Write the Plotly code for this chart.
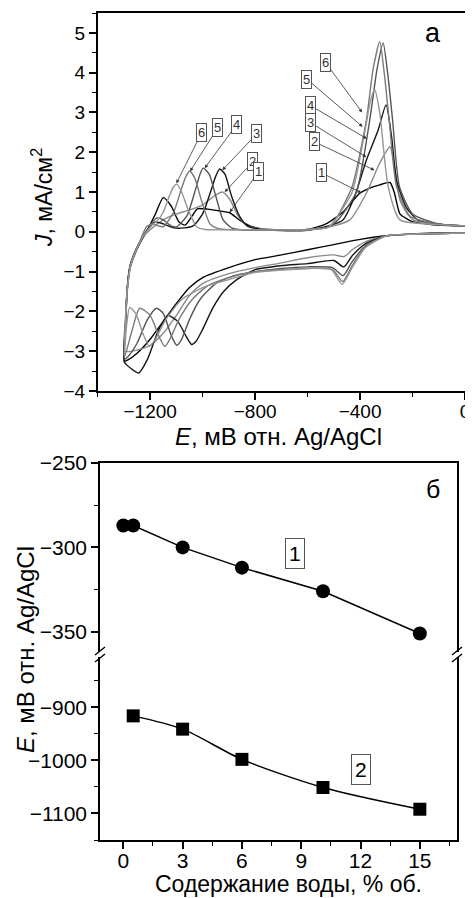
import plotly.graph_objects as go

W, H = 473, 898
OFF = 8  # page body margin in the browser


def px(x):
    return (x - OFF) / W


def py(y):
    return 1 - (y - OFF) / H


# --- panel a: cyclic voltammograms (E, mV; J, mA/cm2) ---
E1 = [0, -100, -200, -300, -400, -500, -600, -700, -800, -900, -1000, -1050, -1100, -1150, -1200, -1250, -1285, -1298,
      -1294, -1288, -1278, -1262, -1240, -1210, -1180, -1150, -1120, -1090, -1067, -1040, -1020, -980, -940, -897, -860,
      -820, -780, -700, -600, -530, -465, -401, -363, -325, -286, -270, -248, -220, -197, -150, -121, -60, 0]
J1 = [-0.02, -0.03, -0.05, -0.1, -0.19, -0.32, -0.45, -0.58, -0.7, -0.9, -1.15, -1.4, -1.8, -2.25, -2.7, -3.05, -3.22, -3.25,
      -2.4, -1.5, -0.95, -0.62, -0.3, 0.05, 0.45, 0.86, 0.65, 0.25, 0.17, 0.4, 0.58, 0.57, 0.53, 0.48, 0.3,
      0.15, 0.08, 0.05, 0.06, 0.2, 0.5, 0.97, 1.1, 1.18, 1.24, 1.0, 0.45, 0.32, 0.25, 0.2, 0.18, 0.16, 0.15]

E2 = [0, -100, -200, -300, -380, -430, -460, -500, -600, -700, -800, -900, -1000, -1050, -1100, -1150, -1200, -1250, -1297,
      -1294, -1287, -1276, -1258, -1235, -1200, -1150, -1100, -1050, -1000, -960, -925, -895, -865, -830, -780, -700, -600,
      -500, -439, -376, -325, -286, -270, -248, -220, -197, -150, -100, 0]
J2 = [-0.03, -0.04, -0.06, -0.1, -0.25, -0.45, -0.62, -0.58, -0.65, -0.78, -0.9, -1.05, -1.3, -1.6, -2.1, -2.55, -2.85, -2.97, -3.0,
      -2.2, -1.4, -0.85, -0.5, -0.2, 0.05, 0.3, 0.45, 0.55, 0.68, 0.88, 1.0, 0.8, 0.4, 0.15, 0.08, 0.05, 0.06,
      0.15, 0.3, 0.97, 1.73, 2.14, 1.7, 0.8, 0.45, 0.3, 0.22, 0.18, 0.15]

E3 = [0, -100, -200, -300, -380, -430, -462, -500, -600, -700, -800, -870, -920, -960, -1000, -1025, -1042, -1065, -1095,
      -1133, -1170, -1210, -1244, -1270, -1298,
      -1294, -1288, -1278, -1260, -1235, -1205, -1180, -1150, -1110, -1070, -1036, -1000, -970, -950, -935, -915, -890,
      -860, -830, -794, -700, -600, -520, -465, -420, -376, -331, -301, -280, -261, -223, -180, -146, -80, 0]
J3 = [-0.03, -0.04, -0.06, -0.1, -0.3, -0.6, -0.88, -0.72, -0.8, -0.85, -0.95, -1.2, -1.5, -1.9, -2.45, -2.75, -2.83, -2.6, -2.25,
      -2.1, -2.5, -3.2, -3.55, -3.45, -3.28,
      -2.3, -1.45, -0.9, -0.55, -0.2, 0.1, 0.25, 0.2, 0.1, 0.1, 0.15, 0.45, 1.0, 1.4, 1.58, 1.45, 0.9,
      0.4, 0.15, 0.08, 0.03, 0.04, 0.15, 0.3, 0.9, 1.8, 2.56, 3.19, 2.4, 1.3, 0.6, 0.3, 0.25, 0.18, 0.15]

E4 = [0, -100, -200, -300, -380, -430, -465, -505, -600, -700, -800, -880, -950, -1010, -1050, -1080, -1099, -1120, -1150,
      -1176, -1210, -1250, -1280, -1298,
      -1293, -1287, -1277, -1258, -1235, -1205, -1175, -1150, -1120, -1099, -1060, -1030, -1010, -998, -975, -950, -922,
      -890, -850, -700, -600, -520, -478, -414, -363, -335, -312, -295, -276, -250, -200, -100, 0]
J4 = [-0.03, -0.04, -0.06, -0.1, -0.35, -0.75, -1.1, -0.9, -0.88, -0.92, -1.0, -1.1, -1.3, -1.7, -2.2, -2.7, -2.85, -2.6, -2.05,
      -1.92, -2.2, -2.8, -3.1, -3.2,
      -2.2, -1.4, -0.85, -0.5, -0.2, 0.12, 0.35, 0.3, 0.15, 0.13, 0.4, 1.0, 1.45, 1.6, 1.45, 0.9, 0.3,
      0.1, 0.05, 0.04, 0.05, 0.12, 0.35, 1.0, 2.81, 4.1, 4.75, 4.0, 2.81, 1.14, 0.45, 0.2, 0.15]

E5 = [0, -100, -200, -300, -380, -430, -466, -505, -600, -700, -800, -900, -980, -1040, -1090, -1125, -1144, -1165, -1200,
      -1240, -1270, -1298,
      -1293, -1286, -1275, -1258, -1240, -1214, -1190, -1170, -1150, -1110, -1080, -1063, -1049, -1030, -1005, -972, -940,
      -850, -700, -600, -520, -490, -430, -376, -350, -325, -308, -289, -261, -210, -108, 0]
J5 = [-0.03, -0.04, -0.06, -0.1, -0.38, -0.85, -1.25, -0.95, -0.92, -0.95, -1.0, -1.15, -1.35, -1.7, -2.2, -2.7, -2.88, -2.65, -2.1,
      -1.92, -2.5, -3.15,
      -2.2, -1.4, -0.85, -0.5, -0.25, 0.13, 0.2, 0.15, 0.13, 0.5, 1.1, 1.4, 1.53, 1.35, 0.8, 0.2, 0.08,
      0.05, 0.05, 0.06, 0.12, 0.35, 1.14, 2.81, 4.1, 4.78, 4.0, 2.81, 1.14, 0.4, 0.2, 0.15]

E6 = [0, -100, -200, -300, -380, -430, -468, -510, -600, -700, -800, -900, -1000, -1080, -1140, -1180, -1202, -1225, -1255,
      -1278, -1292, -1298,
      -1293, -1285, -1272, -1252, -1225, -1195, -1170, -1150, -1130, -1112, -1099, -1080, -1055, -1023, -990, -900,
      -700, -600, -520, -495, -430, -385, -360, -344, -325, -293, -248, -150, 0]
J6 = [-0.03, -0.04, -0.06, -0.1, -0.4, -0.9, -1.32, -0.95, -0.92, -0.96, -1.02, -1.2, -1.4, -1.7, -2.2, -2.7, -2.88, -2.6, -2.05,
      -1.9, -2.5, -3.1,
      -2.0, -1.3, -0.8, -0.45, -0.1, 0.15, 0.3, 0.5, 0.85, 1.12, 1.2, 1.0, 0.55, 0.13, 0.06, 0.05,
      0.05, 0.05, 0.12, 0.3, 1.0, 2.4, 3.3, 3.57, 3.0, 1.14, 0.3, 0.2, 0.15]

cv_curves = [(E1, J1), (E2, J2), (E3, J3), (E4, J4), (E5, J5), (E6, J6)]
cv_colors = ['#000000', '#8a8a8a', '#151515', '#555555', '#7a7a7a', '#959595']

# --- panel b: peak potentials vs water content ---
water1 = [0, 0.5, 3, 6, 10.1, 15]
peak1 = [-287, -287, -300, -312, -326, -351]
water2 = [0.5, 3, 6, 10.1, 15]
peak2 = [-916, -941, -998, -1051, -1092]

FONT = 'Liberation Sans, Arial, sans-serif'

fig = go.Figure()

for (e, j), c in zip(cv_curves, cv_colors):
    fig.add_trace(go.Scatter(x=e, y=j, mode='lines', xaxis='x', yaxis='y',
                             line=dict(color=c, width=1.4, shape='spline', smoothing=0.6),
                             showlegend=False, hoverinfo='skip'))

fig.add_trace(go.Scatter(x=water1, y=peak1, mode='lines+markers', xaxis='x3', yaxis='y3',
                         line=dict(color='black', width=1.5),
                         marker=dict(symbol='circle', size=14, color='black'), showlegend=False))
fig.add_trace(go.Scatter(x=water2, y=peak2, mode='lines+markers', xaxis='x2', yaxis='y2',
                         line=dict(color='black', width=1.5, shape='spline', smoothing=0.8),
                         marker=dict(symbol='square', size=13, color='black'), showlegend=False))

axis_style = dict(showline=True, linecolor='black', linewidth=1.5, mirror=True, ticks='outside',
                  ticklen=7, tickwidth=1.5, tickcolor='black', showgrid=False, zeroline=False,
                  automargin=False, ticklabeloverflow='allow')


def ax(size, **kw):
    d = dict(axis_style)
    d['tickfont'] = dict(family=FONT, size=size, color='black')
    d.update(kw)
    return d


minor_x = dict(ticks='outside', ticklen=4, tickwidth=1.2, tickcolor='black', showgrid=False)

fig.update_layout(
    width=W, height=H, margin=dict(l=0, r=0, t=0, b=0, pad=0), autosize=False,
    paper_bgcolor='white', plot_bgcolor='white',
    xaxis=ax(19, domain=[px(97.7), px(465)], anchor='y', range=[-1400, 0], dtick=400, tick0=0,
             ticklabelstandoff=-5, minor=dict(dtick=200, **minor_x)),
    yaxis=ax(19, domain=[py(391), py(13)], anchor='x', range=[-4, 5.5], dtick=1, tick0=0,
             minor=dict(dtick=0.5, **minor_x)),
    xaxis2=ax(21, domain=[px(100), px(457)], anchor='y2', range=[-1.18, 16.88], dtick=3, tick0=0, mirror=False,
              ticklabelstandoff=-6, minor=dict(dtick=1.5, **minor_x)),
    yaxis2=ax(21, domain=[py(840), py(657)], anchor='x2', range=[-1150, -805], dtick=100, tick0=-900,
              minor=dict(dtick=50, **minor_x)),
    xaxis3=dict(domain=[px(100), px(457)], anchor='y3', side='top', range=[-1.18, 16.88], showline=True,
                linecolor='black', linewidth=1.5, ticks='', showticklabels=False, showgrid=False, zeroline=False,
                automargin=False),
    yaxis3=ax(21, domain=[py(652), py(463)], anchor='x3', range=[-362, -250], dtick=50, tick0=-250,
              minor=dict(dtick=25, **minor_x)),
)

annotations = [
    dict(text='<i>E</i>, мВ отн. Ag/AgCl', x=px(278), y=py(436), font=dict(size=24)),
    dict(text='<i>J</i>, мА/см<sup>2</sup>', x=px(42), y=py(198), textangle=-90, font=dict(size=23)),
    dict(text='<i>E</i>, мВ отн. Ag/AgCl', x=px(25), y=py(650), textangle=-90, font=dict(size=24)),
    dict(text='Содержание воды, % об.', x=px(288), y=py(884), font=dict(size=23)),
    dict(text='а', x=px(433), y=py(33), font=dict(size=27)),
    dict(text='б', x=px(433), y=py(489), font=dict(size=25)),
]
for a in annotations:
    a.update(xref='paper', yref='paper', showarrow=False, xanchor='center', yanchor='middle', borderpad=0)
    a['font'].update(family=FONT, color='black')

# numbered boxed labels with arrows on panel a: (text, label E, label J, tip E, tip J)
cv_labels = [
    ('6', -1004, 2.49, -1100, 1.22), ('5', -943, 2.61, -1048, 1.52), ('4', -871, 2.69, -992, 1.6),
    ('3', -794, 2.46, -925, 1.55), ('2', -809, 1.76, -916, 1.0), ('1', -787, 1.51, -897, 0.49),
    ('6', -531, 4.25, -392, 3.0), ('5', -603, 3.84, -390, 2.64), ('4', -588, 3.17, -374, 2.34),
    ('3', -588, 2.74, -376, 1.88), ('2', -573, 2.26, -345, 1.55), ('1', -546, 1.48, -395, 0.98),
]
for t, lx, ly, tx, ty in cv_labels:
    annotations.append(dict(text=t, x=tx, y=ty, ax=lx, ay=ly, xref='x', yref='y', axref='x', ayref='y',
                            showarrow=True, arrowhead=2, arrowsize=0.9, arrowwidth=0.8, arrowcolor='#333333',
                            bordercolor='#555555', borderwidth=1, borderpad=1, bgcolor='white',
                            font=dict(family=FONT, size=13, color='#333333')))

annotations.append(dict(text='1', x=8.7, y=-303.4, xref='x3', yref='y3', showarrow=False,
                        bordercolor='#555555', borderwidth=1, borderpad=3,
                        font=dict(family=FONT, size=21, color='black')))
annotations.append(dict(text='2', x=12.0, y=-1017, xref='x2', yref='y2', showarrow=False,
                        bordercolor='#555555', borderwidth=1, borderpad=3,
                        font=dict(family=FONT, size=21, color='black')))
fig.update_layout(annotations=annotations)

# axis break marks
shapes = []
for bx in (100, 457):
    for by in (651, 658):
        shapes.append(dict(type='line', xref='paper', yref='paper',
                           x0=px(bx - 5), y0=py(by + 4), x1=px(bx + 5), y1=py(by - 4),
                           line=dict(color='black', width=1.5)))
fig.update_layout(shapes=shapes)

fig.write_html("out.html")
